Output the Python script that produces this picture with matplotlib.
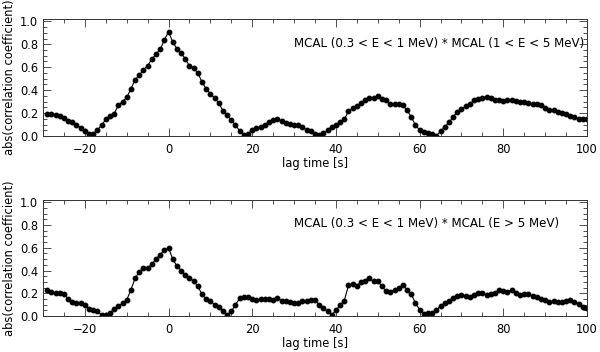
import numpy as np
import matplotlib
matplotlib.use("Agg")
import matplotlib.pyplot as plt
from matplotlib.ticker import MultipleLocator

lag = list(range(-29, 101))

corr_1_5 = [
    0.195, 0.19, 0.18, 0.175, 0.16, 0.13, 0.118, 0.095, 0.072, 0.043,   # -29..-20
    0.017, 0.017, 0.052, 0.095, 0.144, 0.175, 0.195, 0.267, 0.30, 0.336,  # -19..-10
    0.41, 0.49, 0.53, 0.577, 0.612, 0.67, 0.713, 0.756, 0.836, 0.908,     # -9..0
    0.82, 0.76, 0.72, 0.675, 0.61, 0.59, 0.55, 0.47, 0.41, 0.37,          # 1..10
    0.33, 0.29, 0.22, 0.18, 0.14, 0.095, 0.045, 0.012, 0.02, 0.052,       # 11..20
    0.066, 0.08, 0.095, 0.118, 0.138, 0.147, 0.13, 0.11, 0.103, 0.10,     # 21..30
    0.095, 0.075, 0.055, 0.04, 0.02, 0.005, 0.025, 0.05, 0.08, 0.10,      # 31..40
    0.125, 0.145, 0.215, 0.24, 0.26, 0.29, 0.31, 0.33, 0.33, 0.345,       # 41..50
    0.325, 0.31, 0.28, 0.28, 0.28, 0.267, 0.224, 0.167, 0.095, 0.052,     # 51..60
    0.037, 0.03, 0.015, 0.003, 0.04, 0.08, 0.118, 0.167, 0.21, 0.233,     # 61..70
    0.26, 0.28, 0.31, 0.325, 0.333, 0.34, 0.33, 0.31, 0.31, 0.305,        # 71..80
    0.31, 0.31, 0.305, 0.30, 0.295, 0.29, 0.28, 0.28, 0.267, 0.244,       # 81..90
    0.23, 0.224, 0.21, 0.20, 0.19, 0.175, 0.167, 0.15, 0.147, 0.15,       # 91..100
]

corr_gt5 = [
    0.228, 0.207, 0.205, 0.20, 0.19, 0.15, 0.12, 0.115, 0.115, 0.095,     # -29..-20
    0.065, 0.053, 0.04, 0.01, 0.01, 0.03, 0.06, 0.09, 0.11, 0.14,         # -19..-10
    0.23, 0.33, 0.39, 0.42, 0.42, 0.455, 0.50, 0.54, 0.58, 0.60,          # -9..0
    0.50, 0.44, 0.40, 0.36, 0.33, 0.31, 0.26, 0.19, 0.15, 0.13,           # 1..10
    0.10, 0.08, 0.04, 0.01, 0.04, 0.10, 0.155, 0.164, 0.17, 0.146,        # 11..20
    0.14, 0.149, 0.146, 0.146, 0.14, 0.16, 0.132, 0.132, 0.126, 0.117,    # 21..30
    0.111, 0.132, 0.132, 0.145, 0.14, 0.10, 0.07, 0.04, 0.012, 0.05,      # 31..40
    0.095, 0.135, 0.27, 0.278, 0.268, 0.297, 0.307, 0.33, 0.307, 0.307,   # 41..50
    0.26, 0.219, 0.215, 0.23, 0.245, 0.274, 0.23, 0.19, 0.115, 0.055,     # 51..60
    0.015, 0.022, 0.03, 0.05, 0.09, 0.11, 0.13, 0.155, 0.175, 0.184,      # 61..70
    0.178, 0.164, 0.184, 0.199, 0.199, 0.184, 0.19, 0.199, 0.228, 0.219,  # 71..80
    0.213, 0.228, 0.205, 0.184, 0.19, 0.19, 0.178, 0.17, 0.149, 0.14,     # 81..90
    0.12, 0.132, 0.126, 0.12, 0.132, 0.14, 0.12, 0.102, 0.082, 0.073,     # 91..100
]

labels = [
    "MCAL (0.3 < E < 1 MeV) * MCAL (1 < E < 5 MeV)",
    "MCAL (0.3 < E < 1 MeV) * MCAL (E > 5 MeV)",
]
xlabel = "lag time [s]"
ylabel = "abs(correlation coefficient)"

plt.rcParams['font.family'] = ['DejaVu Sans']
fig = plt.figure(figsize=(6.0, 3.52), dpi=100)

rects = [
    [43/600, 1-136/352, 544/600, 117/352],
    [43/600, 1-316/352, 544/600, 116/352],
]

for rect, series, lab in zip(rects, [corr_1_5, corr_gt5], labels):
    ax = fig.add_axes(rect)
    ax.plot(lag, series, color='black', lw=0.8, marker='o', ms=3.2,
            mfc='black', mec='black')
    ax.set_xlim(-30, 100)
    ax.set_ylim(0, 1.02)
    ax.xaxis.set_major_locator(MultipleLocator(20))
    ax.xaxis.set_minor_locator(MultipleLocator(5))
    ax.yaxis.set_major_locator(MultipleLocator(0.2))
    ax.yaxis.set_minor_locator(MultipleLocator(0.05))
    ax.yaxis.set_major_formatter(matplotlib.ticker.FormatStrFormatter('%.1f'))
    ax.tick_params(which='both', direction='in', top=True, right=True,
                   labelsize=8.3, width=0.6, color='#333333')
    ax.tick_params(which='major', length=6)
    ax.tick_params(which='minor', length=3)
    ax.tick_params(axis='x', pad=5)
    for s in ax.spines.values():
        s.set_linewidth(0.7)
        s.set_color('#333333')
    ax.set_xlabel(xlabel, fontsize=8.3, labelpad=1)
    ax.set_ylabel(ylabel, fontsize=8.3, labelpad=3)
    ax.text(30, 0.81, lab, fontsize=8.6, ha='left', va='center')

fig.savefig("out.png", dpi=100)
